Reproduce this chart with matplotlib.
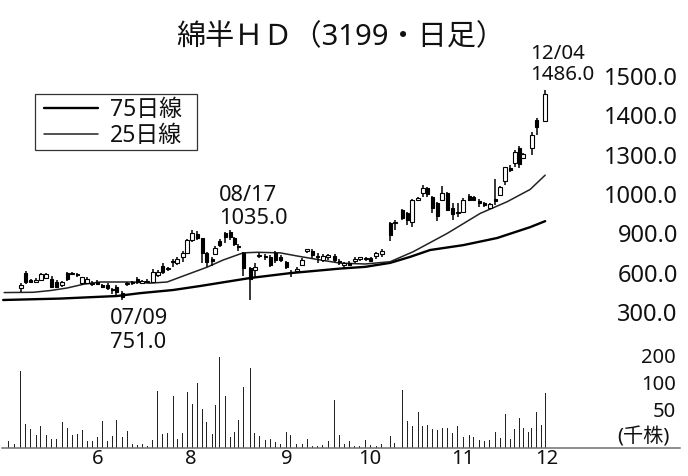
import numpy as np
import matplotlib
matplotlib.use("Agg")
import matplotlib.pyplot as plt
from matplotlib.patches import Rectangle

plt.rcParams['font.family'] = ['Noto Sans', 'Noto Sans CJK JP', 'DejaVu Sans']

title = "綿半ＨＤ（3199・日足）"
sessions = [0,1.2,2.4,3.4,4.4,5.5,6.4,7.5,8.6,9.6,10.7,11.7,12.7,13.7,14.7,15.7,16.7,17.7,18.7,19.8,
            20.7,21.5,22.7,23.7,24.7,25.7,26.7,27.7,28.8,29.8,30.8,31.8,32.9,33.7,34.8,35.7,36.7,37.7,38.7,39.6,
            40.7,41.3,42.2,43.3,44.3,45.1,45.9,46.9,48.3,49.2,50.1,51.3,52.3,53.3,
            54.4,55.5,56.4,57.6,58.7,59.7,60.7,61.8,62.8,63.9,65.2,66.1,67.1,68.1,69.2,70.2,71.4,72.4,73.5,74.6,
            76.3,77.2,78.7,79.7,80.7,81.9,82.8,83.7,84.7,85.7,86.7,87.7,88.8,89.8,90.9,92.1,93,94.1,95.1,96.2,
            97.3,98.3,99.3,100.3,101.2,102.1,102.9,103.9,104.6,105.6,106.6,107.3]
nan = float('nan')
opens = [nan,nan,792,844,821,814,821,827,823,815,802,844,842,842,809,812,807,815,802,803,
         789,798,777,806,813,824,812,814,815,838,871,858,884,879,900,914,961,982,967,914,
         894,911,958,984,989,967,940,914,862,856,906,905,903,917,903,885,849,854,873,924,
         924,906,891,903,905,887,872,882,886,893,893,897,905,912,1019,1019,1066,1057,1025,1101,
         1124,1142,1113,1089,1101,1127,1074,1054,1060,1115,1110,1097,1089,1072,1103,1118,1169,1212,1229,1282,
         1249,nan,1282,1381,nan,1379]
closes = [nan,nan,804,813,813,822,842,841,798,798,813,823,847,838,830,826,812,807,798,792,
          785,780,760,810,809,814,817,819,850,848,850,863,887,894,914,961,984,967,914,885,
          889,932,943,973,970,946,937,862,823,868,910,901,873,891,891,865,844,861,891,928,
          908,903,905,907,891,883,880,875,893,900,899,889,914,922,978,1025,1037,1031,1101,1107,
          1142,1122,1072,1045,1127,1066,1051,1060,1101,1101,1101,1092,1083,1087,1099,1148,1215,1206,1270,1227,
          1262,nan,1328,1355,nan,1472]
highs = [nan,nan,809,851,826,827,844,844,835,821,817,850,850,847,833,830,817,820,807,809,
         792,802,784,815,819,832,821,823,858,856,879,868,893,903,924,966,996,994,968,920,
         903,940,963,989,996,973,946,920,868,879,914,912,908,924,908,889,856,868,897,931,
         928,914,912,912,912,893,885,887,900,903,903,901,919,928,1025,1031,1068,1060,1103,1110,
         1153,1148,1115,1095,1150,1130,1089,1089,1107,1121,1115,1104,1095,1089,1173,1150,1218,1223,1276,1290,
         1265,nan,1338,1387,nan,1486]
lows = [nan,nan,780,807,809,809,819,823,793,793,798,819,838,833,803,807,801,802,793,786,
        772,770,751,801,803,807,809,809,812,833,842,854,868,873,885,911,955,961,879,868,
        870,908,935,949,961,940,924,836,751,833,897,891,865,882,885,858,833,844,870,917,
        897,879,885,891,885,873,862,870,880,887,887,884,896,901,959,996,1031,1013,1005,1099,
        1113,1113,1054,1027,1099,1064,1031,1043,1058,1097,1099,1078,1078,1068,1083,1116,1153,1199,1215,1212,
        1247,nan,1258,1328,nan,1375]
volumes = [15,8,155,49,38,27,45,26,19,19,53,40,27,28,36,15,15,22,55,15,24,57,22,35,9,7,8,5,17,114,
           29,31,104,19,30,112,88,131,79,53,29,87,183,104,23,32,57,122,161,31,24,17,19,13,
           8,32,26,9,9,19,5,5,7,15,97,27,9,14,5,5,16,6,5,9,25,11,116,54,44,72,44,46,38,37,41,41,31,44,
           23,26,23,16,15,17,33,21,69,18,39,61,40,33,40,73,46,111]
ma75_sessions = [-1.1,10.3,21.7,26.3,32.9,38.3,48.3,56.3,66.3,71.3,76.3,80.3,84.3,90.9,97.7,104.3,107.3]
ma75_values = [751,756,765,775,786,800,828,845,861,867,881,902,926,943,968,1006,1027]
ma25_sessions = [-0.9,4.9,8.3,11.7,14.9,18.3,24.9,28.3,31.7,34.3,36.3,39.7,42.9,46.9,49.7,54.3,57.7,61.7,66.3,71.3,
                 76.3,80.9,87.7,94.3,99.7,104.3,107.3]
ma25_values = [777,778,784,793,806,814,814,810,814,831,844,866,891,916,918,916,905,893,880,877,
               885,920,984,1054,1095,1138,1188]
price_ticks = [709,847,984,1122,1260,1397,1535]
price_labels = ["300.0","600.0","900.0","1000.0","1300.0","1400.0","1500.0"]
vol_ticks = [184.6,130.6,77.4]
vol_labels = ["200","100","50"]
vol_unit = "(千株)"
month_ticks = [17.9,36.5,55.7,72.3,90.9,107.7]
month_labels = ["6","8","9","10","11","12"]

W, H = 688, 476
fig = plt.figure(figsize=(W/100, H/100), dpi=100, facecolor='white')
ink = '#111111'

def axes_px(x0, y0, x1, y1):
    return fig.add_axes([x0/W, 1-y1/H, (x1-x0)/W, (y1-y0)/H])

xlim = ((0-8.67)/5, (600-8.67)/5)
ax = axes_px(0, 60, 600, 330)
ax.set_xlim(*xlim)
ax.set_ylim(646, 1591)
ax.patch.set_alpha(0)
for s in ax.spines.values():
    s.set_visible(False)

l75, = ax.plot(ma75_sessions, ma75_values, color='black', lw=1.7, label='75日線', solid_capstyle='round')
l25, = ax.plot(ma25_sessions, ma25_values, color='#222222', lw=1.1, label='25日線', solid_capstyle='round')

for x, o, c, h, l in zip(sessions, opens, closes, highs, lows):
    if np.isnan(o):
        continue
    ax.vlines(x, l, h, color='black', lw=1.1, zorder=3)
    up = c >= o
    ax.bar(x, abs(c-o), bottom=min(o, c), width=0.8 if up else 0.66, facecolor='white' if up else 'black',
           edgecolor='black', linewidth=0.8, zorder=4)

ax.set_xticks([])
ax.yaxis.tick_right()
ax.set_yticks(price_ticks)
ax.set_yticklabels(price_labels, fontsize=17, color=ink, ha='right')
ax.tick_params(axis='y', length=0, pad=56)

ax.add_patch(Rectangle((34.5/W, 1-150/H), 162/W, 55.5/H, transform=fig.transFigure,
                       facecolor='white', edgecolor='#333333', linewidth=0.9, zorder=5, clip_on=False))
leg = ax.legend(handles=[l75, l25], loc='upper left', bbox_to_anchor=(44/W, 1-98/H), bbox_transform=fig.transFigure,
                fontsize=16.5, frameon=False, borderaxespad=0, borderpad=0, labelspacing=0.09,
                handlelength=2.36, handletextpad=0.52)
leg.set_zorder(6)
for t in leg.get_texts():
    t.set_color(ink)

vax = axes_px(0, 345, 600, 448)
vax.set_xlim(*xlim)
vax.set_ylim(0, 206)
vax.patch.set_alpha(0)
for s in vax.spines.values():
    s.set_visible(False)
vax.bar(sessions, volumes, width=0.26, color='#222222')
vax.plot([-1.33, 134.3], [0, 0], color='#707070', lw=1.1, clip_on=False)
vax.yaxis.tick_right()
vax.set_yticks(vol_ticks)
vax.set_yticklabels(vol_labels, fontsize=14.5, color=ink, ha='right')
vax.tick_params(axis='y', length=0, pad=54.7)
vax.set_xticks(month_ticks)
vax.set_xticklabels(month_labels, fontsize=14.5, color=ink)
vax.tick_params(axis='x', length=0, pad=1)

fig.text(670/W, 1-437.5/H, vol_unit, fontsize=14.5, color=ink, ha='right', va='center')
fig.text(340.5/W, 1-37.5/H, title, fontsize=21, color=ink, ha='center', va='center')
fig.text(219/W, 1-207/H, "08/17\n1035.0", fontsize=15.7, color=ink, ha='left', va='center', linespacing=1.12)
fig.text(110/W, 1-330.5/H, "07/09\n751.0", fontsize=15.7, color=ink, ha='left', va='center', linespacing=1.15)
fig.text(530/W, 1-64.5/H, "12/04\n1486.0", fontsize=14.8, color=ink, ha='left', va='center', linespacing=1.08)

fig.savefig('out.png', dpi=100)
